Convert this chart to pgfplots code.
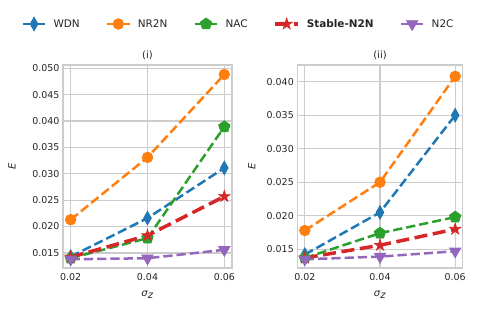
\documentclass[border=0pt]{standalone}
\usepackage{pgfplots}
\pgfplotsset{compat=1.18}
\usepackage{fontspec}
\setmainfont{DejaVu Sans}
\definecolor{c0}{HTML}{1F77B4}
\definecolor{c1}{HTML}{FF7F0E}
\definecolor{c2}{HTML}{2CA02C}
\definecolor{c3}{HTML}{D62728}
\definecolor{c4}{HTML}{9467BD}
\definecolor{gridc}{HTML}{CCCCCC}
\definecolor{txt}{HTML}{262626}
\pgfdeclareplotmark{fstar}{%
  \pgfpathmoveto{\pgfpointpolar{90}{\pgfplotmarksize}}%
  \pgfpathlineto{\pgfpointpolar{126}{0.382\pgfplotmarksize}}%
  \pgfpathlineto{\pgfpointpolar{162}{\pgfplotmarksize}}%
  \pgfpathlineto{\pgfpointpolar{198}{0.382\pgfplotmarksize}}%
  \pgfpathlineto{\pgfpointpolar{234}{\pgfplotmarksize}}%
  \pgfpathlineto{\pgfpointpolar{270}{0.382\pgfplotmarksize}}%
  \pgfpathlineto{\pgfpointpolar{306}{\pgfplotmarksize}}%
  \pgfpathlineto{\pgfpointpolar{342}{0.382\pgfplotmarksize}}%
  \pgfpathlineto{\pgfpointpolar{18}{\pgfplotmarksize}}%
  \pgfpathlineto{\pgfpointpolar{54}{0.382\pgfplotmarksize}}%
  \pgfpathclose
  \pgfusepathqfillstroke
}
\pgfplotsset{
  every axis title shift=0pt,
  panel/.style={
    scale only axis, height=203bp, clip=false,
    xmin=0.018, xmax=0.062, xtick={0.02,0.04,0.06},
    grid=major, major grid style={gridc, line width=1.2bp},
    axis line style={gridc, line width=1.25bp},
    tick style={draw=none},
    ticklabel style={font=\fontsize{9.5}{11}\selectfont, text=txt},
    /pgf/number format/assume math mode=true,
    scaled ticks=false,
    xticklabel style={yshift=-2bp, /pgf/number format/fixed, /pgf/number format/fixed zerofill, /pgf/number format/precision=2},
    yticklabel style={/pgf/number format/fixed, /pgf/number format/fixed zerofill, /pgf/number format/precision=3},
    title style={font=\fontsize{10}{12}\selectfont, text=txt, at={(axis description cs:0.5,1.049)}, anchor=center},
    xlabel style={font=\fontsize{10}{12}\selectfont, text=txt, at={(axis description cs:0.5,-0.133)}, anchor=center},
    ylabel style={font=\fontsize{10}{12}\selectfont, text=txt, anchor=center},
    xlabel={\textit{σ}$_{\textit{z}}$},
    ylabel={\textit{E}},
    legend image code/.code={\draw[mark repeat=2,mark phase=2,#1] plot coordinates {(0bp,0bp) (11.3bp,0bp) (22.6bp,0bp)};},
  },
  s wdn/.style={c0, line width=2.5bp, dash pattern=on 9.25bp off 4bp, mark=diamond*, mark size=6.8bp, mark options={solid, xscale=0.75, fill=c0, draw=c0, line width=0.8bp}},
  s nr/.style={c1, line width=2.5bp, dash pattern=on 9.25bp off 4bp, mark=*, mark size=5.3bp, mark options={solid, fill=c1, draw=c1, line width=0.8bp}},
  s nac/.style={c2, line width=2.5bp, dash pattern=on 9.25bp off 4bp, mark=pentagon*, mark size=6bp, mark options={solid, fill=c2, draw=c2, line width=0.8bp}},
  s st/.style={c3, line width=3.5bp, dash pattern=on 13bp off 5.6bp, mark=fstar, mark size=5.8bp, mark options={solid, fill=c3, draw=c3, line width=0.8bp}},
  s n2c/.style={c4, line width=2.5bp, dash pattern=on 9.25bp off 4bp, mark=triangle*, mark size=6.5bp, mark options={solid, rotate=180, fill=c4, draw=c4, line width=0.8bp}},
}
\begin{document}
\begin{tikzpicture}
\path[use as bounding box] (0,0) rectangle (479bp,314bp);
\begin{axis}[panel, at={(63bp,46bp)}, anchor=south west, width=169bp,
  ymin=0.01215, ymax=0.0506, ytick={0.015,0.020,0.025,0.030,0.035,0.040,0.045,0.050},
  title={(i)},
  ylabel style={at={(axis description cs:-0.302,0.5)}},
  legend columns=5,
  legend style={at={(axis description cs:1.0385,1.202)}, anchor=center, draw=none, fill=none,
    font=\fontsize{10.5}{12}\selectfont, text=txt,
    /tikz/every odd column/.append style={column sep=5bp},
    /tikz/every even column/.append style={column sep=24bp}},
  legend cell align=left]
\addplot[s wdn] coordinates {(0.02,0.0143) (0.04,0.0216) (0.06,0.0311)};
\addlegendentry{WDN}
\addplot[s nr] coordinates {(0.02,0.0213) (0.04,0.0331) (0.06,0.0488)};
\addlegendentry{NR2N}
\addplot[s nac] coordinates {(0.02,0.0140) (0.04,0.0178) (0.06,0.0389)};
\addlegendentry{NAC}
\addplot[s st] coordinates {(0.02,0.0142) (0.04,0.0183) (0.06,0.0257)};
\addlegendentry{\textbf{Stable-N2N}}
\addplot[s n2c] coordinates {(0.02,0.0138) (0.04,0.0140) (0.06,0.0156)};
\addlegendentry{N2C}
\end{axis}
\begin{axis}[panel, at={(297.3bp,46bp)}, anchor=south west, width=165.4bp,
  ymin=0.0122, ymax=0.0425, ytick={0.015,0.020,0.025,0.030,0.035,0.040},
  title={(ii)},
  ylabel style={at={(axis description cs:-0.276,0.5)}}]
\addplot[s wdn] coordinates {(0.02,0.0142) (0.04,0.0205) (0.06,0.0350)};
\addplot[s nr] coordinates {(0.02,0.0178) (0.04,0.0250) (0.06,0.0408)};
\addplot[s nac] coordinates {(0.02,0.0137) (0.04,0.0174) (0.06,0.0198)};
\addplot[s st] coordinates {(0.02,0.0137) (0.04,0.0156) (0.06,0.0180)};
\addplot[s n2c] coordinates {(0.02,0.0135) (0.04,0.0139) (0.06,0.0147)};
\end{axis}
\end{tikzpicture}
\end{document}
